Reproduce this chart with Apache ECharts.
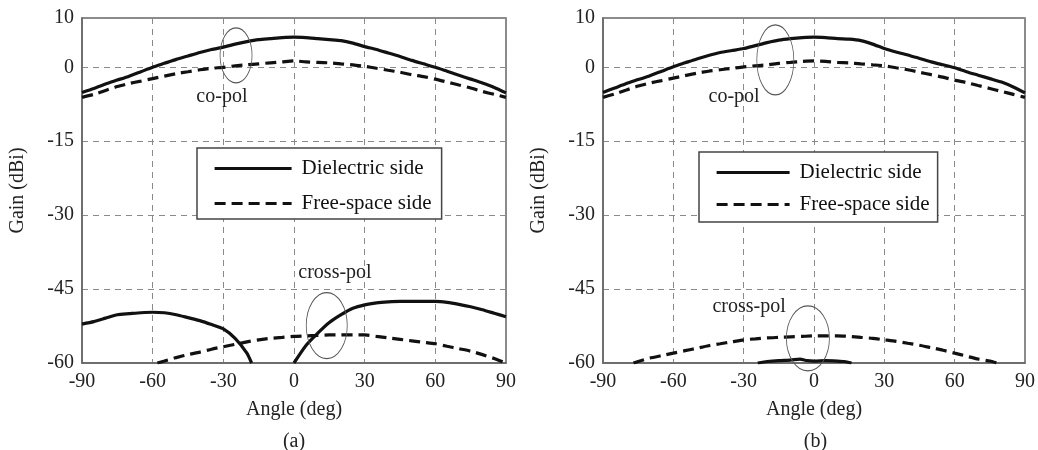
<!DOCTYPE html>
<html>
<head>
<meta charset="utf-8">
<script src="https://cdn.jsdelivr.net/npm/echarts@6/dist/echarts.min.js"></script>
<style>html,body{margin:0;padding:0;background:#fff}#c{width:1038px;height:450px}</style>
</head>
<body>
<div id="c"></div>
<script>
// ---- data ----
const angles = [-90,-85,-80,-75,-70,-65,-60,-55,-50,-45,-40,-35,-30,-25,-20,-15,-10,-5,0,5,10,15,20,25,30,35,40,45,50,55,60,65,70,75,80,85,90];
const xTicks = [-90,-60,-30,0,30,60,90];
const yTicks = [-60,-45,-30,-15,0,10];
const seriesNames = ['Dielectric side','Free-space side'];
const panelLabels = ['(a)','(b)'];

// (a) co-pol
const aCoDiel = [-5.1,-4.3,-3.4,-2.6,-1.8,-0.9,0.0,0.8,1.6,2.3,3.0,3.6,4.1,4.7,5.2,5.6,5.8,6.0,6.1,6.0,5.8,5.6,5.4,4.9,4.2,3.6,2.9,2.2,1.4,0.7,0.0,-0.8,-1.6,-2.4,-3.2,-4.1,-5.2];
const aCoFree = [-6.1,-5.5,-4.7,-3.9,-3.3,-2.8,-2.3,-1.8,-1.3,-0.9,-0.5,-0.2,0.0,0.3,0.5,0.7,0.9,1.1,1.3,1.1,1.0,0.9,0.7,0.5,0.2,-0.2,-0.6,-1.0,-1.5,-1.9,-2.4,-3.0,-3.6,-4.2,-4.9,-5.5,-6.1];
// (a) cross-pol
const aXDielAngL = [-90,-85,-80,-75,-70,-65,-60,-55,-50,-45,-40,-35,-30,-25,-20,-18];
const aXDielValL = [-52.1,-51.6,-50.9,-50.2,-50.0,-49.8,-49.7,-49.8,-50.2,-50.8,-51.4,-52.2,-53.1,-55.0,-58.0,-60.0];
const aXDielAngR = [0,5,10,15,20,25,30,35,40,45,50,55,60,65,70,75,80,85,90];
const aXDielValR = [-60.0,-56.5,-54.0,-51.8,-50.2,-48.9,-48.2,-47.8,-47.6,-47.5,-47.5,-47.5,-47.5,-47.7,-48.1,-48.6,-49.2,-49.9,-50.6];
const aXFreeAng = [-58,-55,-50,-45,-40,-35,-30,-25,-20,-15,-10,-5,0,5,10,15,20,25,30,35,40,45,50,55,60,65,70,75,80,85,90];
const aXFreeVal = [-60.0,-59.6,-58.9,-58.3,-57.8,-57.2,-56.7,-56.2,-55.7,-55.3,-55.0,-54.8,-54.6,-54.5,-54.4,-54.3,-54.3,-54.3,-54.3,-54.6,-54.9,-55.2,-55.5,-55.8,-56.1,-56.6,-57.1,-57.6,-58.3,-59.1,-60.0];

// (b) co-pol
const bCoDiel = [-5.1,-4.2,-3.3,-2.5,-1.7,-0.8,0.1,0.9,1.7,2.4,3.0,3.4,3.8,4.4,5.0,5.5,5.8,6.0,6.1,6.0,5.8,5.7,5.4,4.7,3.8,3.1,2.5,1.8,1.1,0.5,-0.1,-0.9,-1.6,-2.3,-3.0,-4.0,-5.2];
const bCoFree = [-6.1,-5.4,-4.6,-3.8,-3.2,-2.7,-2.2,-1.7,-1.2,-0.8,-0.5,-0.2,0.1,0.3,0.5,0.8,1.0,1.2,1.3,1.2,1.0,0.9,0.7,0.5,0.3,-0.1,-0.5,-1.0,-1.5,-2.0,-2.6,-3.1,-3.7,-4.3,-4.9,-5.5,-6.1];
// (b) cross-pol
const bXDielAng = [-24,-20,-15,-10,-6,-3,0,5,10,13,16];
const bXDielVal = [-60.0,-59.7,-59.5,-59.4,-59.2,-59.5,-59.6,-59.5,-59.6,-59.7,-60.0];
const bXFreeAng = [-77,-75,-70,-65,-60,-55,-50,-45,-40,-35,-30,-25,-20,-15,-10,-5,0,5,10,15,20,25,30,35,40,45,50,55,60,65,70,75,78];
const bXFreeVal = [-60.0,-59.7,-59.0,-58.5,-58.0,-57.5,-57.0,-56.5,-56.1,-55.7,-55.3,-55.1,-54.9,-54.8,-54.7,-54.6,-54.5,-54.5,-54.5,-54.6,-54.8,-55.0,-55.3,-55.6,-56.0,-56.4,-56.9,-57.4,-58.0,-58.6,-59.2,-59.6,-60.0];

// annotations: [text, x, y]
const annotTexts = [
  [['co-pol', -30.6, -6.0], ['cross-pol', 17.4, -41.7]],
  [['co-pol', -34.1, -6.0], ['cross-pol', -27.7, -48.6]]
];
// ellipses: [x, y, w, h]
const annotEllipses = [
  [[-24.6, 2.4, 32, 55], [13.9, -52.4, 41, 66]],
  [[-16.5, 1.5, 37, 70], [-2.6, -55.0, 43, 65]]
];

// ---- build ----
const FONT = "'Liberation Serif','Times New Roman',serif";
const zip = (xs, ys) => xs.map((x, i) => [x, ys[i]]);
const grids = [
  {left: 82, top: 18, width: 424, height: 345},
  {left: 603, top: 18, width: 425, height: 345}
];
const gridColor = '#8a8a8a';
const lineColor = '#111';
const solid = {color: lineColor, width: 3.2, type: 'solid'};
const dashed = {color: lineColor, width: 3.2, type: [11, 6]};

const xAxes = grids.map((g, i) => ({
  gridIndex: i, type: 'value', min: -90, max: 90, interval: 30,
  name: 'Angle (deg)', nameLocation: 'middle', nameGap: 37,
  nameTextStyle: {fontFamily: FONT, fontSize: 20, color: '#222'},
  axisLine: {show: true, onZero: false, lineStyle: {color: '#666', width: 1.5}},
  axisTick: {show: false},
  axisLabel: {fontFamily: FONT, fontSize: 20, color: '#222', margin: 9},
  splitLine: {show: true, lineStyle: {color: gridColor, type: [6, 5], width: 1}}
}));
const yAxes = grids.map((g, i) => ({
  gridIndex: i, type: 'value', min: -60, max: 10, interval: 15,
  name: 'Gain (dBi)', nameLocation: 'middle', nameGap: 54,
  nameTextStyle: {fontFamily: FONT, fontSize: 20, color: '#222'},
  axisLine: {show: true, onZero: false, lineStyle: {color: '#666', width: 1.5}},
  axisTick: {show: false},
  axisLabel: {fontFamily: FONT, fontSize: 20, color: '#222', margin: 8,
    showMinLabel: true, showMaxLabel: true},
  splitLine: {show: true, lineStyle: {color: gridColor, type: [6, 5], width: 1}}
}));

function markFor(p) {
  const data = [];
  annotEllipses[p].forEach(e => data.push({
    coord: [e[0], e[1]], symbol: 'circle', symbolSize: [e[2], e[3]],
    itemStyle: {color: 'rgba(0,0,0,0)', borderColor: '#555', borderWidth: 1},
    label: {show: false}
  }));
  annotTexts[p].forEach(t => data.push({
    coord: [t[1], t[2]], symbol: 'rect', symbolSize: [1, 1],
    itemStyle: {color: 'rgba(0,0,0,0)'},
    label: {show: true, position: 'inside', formatter: t[0], fontFamily: FONT, fontSize: 20, color: '#222'}
  }));
  return {silent: true, animation: false, data: data};
}

function mk(name, p, data, style, extra) {
  return Object.assign({
    type: 'line', name: name, xAxisIndex: p, yAxisIndex: p,
    data: data, showSymbol: false, symbol: 'none', clip: true,
    lineStyle: style, itemStyle: {color: lineColor}, smooth: 0.2,
    emphasis: {disabled: true}, silent: true, z: 3
  }, extra || {});
}

const series = [
  mk(seriesNames[0], 0, zip(angles, aCoDiel), solid, {markPoint: markFor(0)}),
  mk(seriesNames[1], 0, zip(angles, aCoFree), dashed),
  mk(seriesNames[0], 0, zip(aXDielAngL, aXDielValL), solid),
  mk(seriesNames[0], 0, zip(aXDielAngR, aXDielValR), solid),
  mk(seriesNames[1], 0, zip(aXFreeAng, aXFreeVal), dashed),
  mk(seriesNames[0], 1, zip(angles, bCoDiel), solid, {markPoint: markFor(1)}),
  mk(seriesNames[1], 1, zip(angles, bCoFree), dashed),
  mk(seriesNames[0], 1, zip(bXDielAng, bXDielVal), solid),
  mk(seriesNames[1], 1, zip(bXFreeAng, bXFreeVal), dashed)
];

const legendBase = {
  orient: 'vertical', data: seriesNames, selectedMode: false,
  backgroundColor: '#fff', borderColor: '#444', borderWidth: 1.5, borderRadius: 0,
  itemHeight: 14,
  textStyle: {fontFamily: FONT, fontSize: 21, color: '#111', lineHeight: 20, padding: [0, 0, 0, 5]},
  lineStyle: {width: 3.2, type: 'inherit', color: lineColor},
  itemStyle: {opacity: 0}
};
const legends = [
  Object.assign({}, legendBase, {left: 197, top: 148, itemWidth: 77, itemGap: 14, padding: [10, 10, 5, 16]}),
  Object.assign({}, legendBase, {left: 699, top: 152, itemWidth: 73, itemGap: 11, padding: [10, 8, 7, 16]})
];

const chart = echarts.init(document.getElementById('c'), null, {renderer: 'canvas'});
chart.setOption({
  animation: false,
  backgroundColor: '#fff',
  grid: grids.map(g => Object.assign({show: true, borderColor: '#666', borderWidth: 1.5, backgroundColor: 'transparent'}, g)),
  xAxis: xAxes,
  yAxis: yAxes,
  legend: legends,
  series: series,
  graphic: panelLabels.map((t, i) => ({
    type: 'text', x: grids[i].left + grids[i].width / 2, y: 442,
    style: {text: t, align: 'center', verticalAlign: 'middle', font: '20px ' + FONT, fill: '#222'}
  }))
});
</script>
</body>
</html>
